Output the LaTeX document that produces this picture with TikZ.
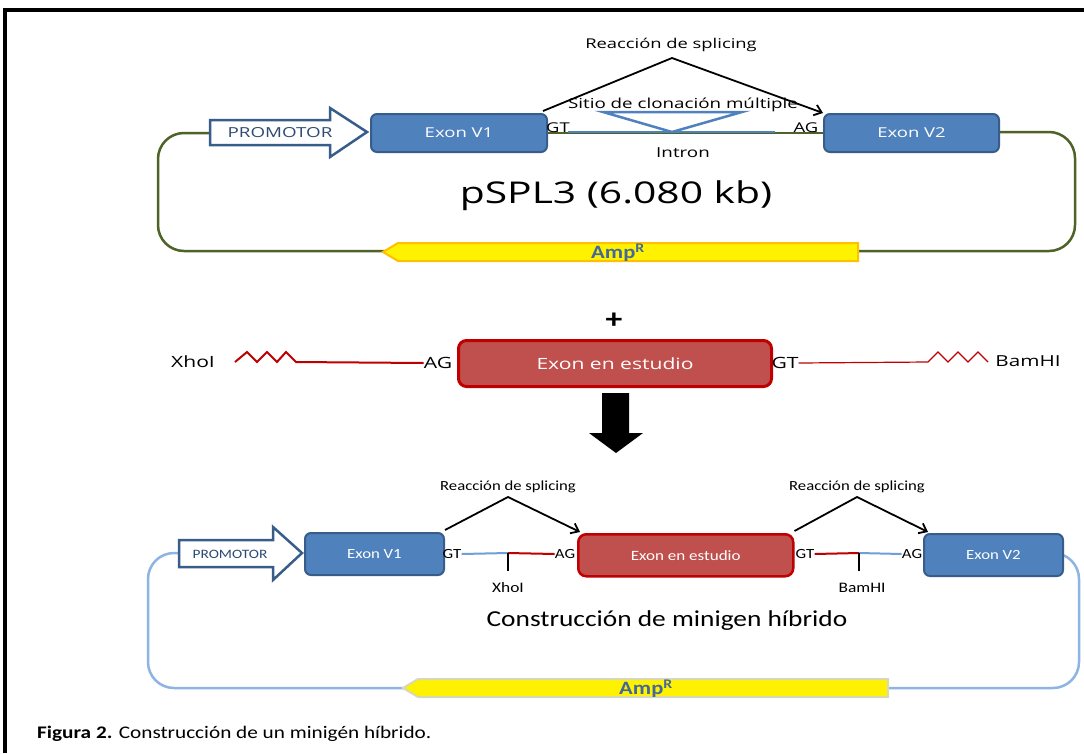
\documentclass[tikz,border=0pt]{standalone}
\usepackage{fontspec}
\setmainfont[FakeStretch=1.2]{Carlito}
\newfontfamily\os[FakeStretch=1.36]{Open Sans}
\usetikzlibrary{arrows.meta}
\definecolor{exblue}{HTML}{4F81BD}
\definecolor{exbord}{HTML}{385D8A}
\definecolor{olivel}{HTML}{4F6228}
\definecolor{lblue}{HTML}{8EB4E3}
\definecolor{mblue}{HTML}{6F9FD8}
\definecolor{dred}{HTML}{C00000}
\definecolor{exred}{HTML}{C0504D}
\definecolor{ampo}{HTML}{FFC000}
\definecolor{ampg}{HTML}{D8D8B8}
\definecolor{amptxt}{HTML}{44679C}
\definecolor{promtxt}{HTML}{2E4A72}
\begin{document}
\begin{tikzpicture}[x=1pt,y=-1pt,
  exon/.style={draw=exbord, fill=exblue, line width=2pt, rounded corners=6pt, text=white, inner sep=0pt, anchor=north west},
  redexon/.style={draw=dred, fill=exred, line width=3pt, rounded corners=8pt, text=white, inner sep=0pt, anchor=north west},
  lbl/.style={inner sep=0pt},
  splice/.style={draw=black, line width=1.8pt, -{Straight Barb[length=7pt,width=11pt,line width=1.8pt]}},
  promo/.style={draw=exbord, fill=white, line width=2.5pt, line join=miter},
  amp/.style={fill=yellow, line width=2pt}
]
\useasboundingbox (0,0) rectangle (1084,753);
\fill[white] (0,0) rectangle (1084,753);
% frame
\draw[line width=3.5pt] (5,753) -- (5,10) -- (1090,10);

% ===== TOP: pSPL3 =====
\coordinate (pw1) at (210,133);
\draw[olivel, line width=2.5pt, rounded corners=26pt] (pw1) -- (158,133) -- (158,251) -- (1075,251) -- (1075,132) -- (998,132);
\draw[promo] (210,120) -- (330,120) -- (330,108) -- (367,132) -- (330,157) -- (330,145) -- (210,145) -- cycle;
\node[lbl, text=promtxt] (prom1) at (280,133) {\os\fontsize{13.8}{15}\selectfont PROMOTOR};
\node[exon, minimum width=176pt, minimum height=38pt] (ev1) at (370,113) {\os\fontsize{13.6}{15}\selectfont Exon V1};
\node[exon, minimum width=175pt, minimum height=38pt] (ev2) at (823,113) {\os\fontsize{13.6}{15}\selectfont Exon V2};
% intron
\draw[olivel, line width=2pt] (ev1.east) -- (ev2.west);
\coordinate (ib1) at (568,132);
\coordinate (ib2) at (775,132);
\draw[exblue, line width=2pt] (ib1) -- (ib2);
\node[lbl] (gt1) at (558,128) {\os\fontsize{13.5}{15}\selectfont GT};
\node[lbl] (ag1) at (806,128) {\os\fontsize{13.5}{15}\selectfont AG};
\node[lbl] (intron) at (683,153) {\os\fontsize{13.8}{15}\selectfont Intron};
% MCS triangle
\coordinate (t1) at (603,112);
\coordinate (t2) at (742,112);
\coordinate (t3) at (672,132);
\draw[exblue, line width=2.5pt, line join=miter] (t1) -- (t2) -- (t3) -- cycle;
\node[lbl] (mcs) at (683,105) {\os\fontsize{13.8}{16}\selectfont Sitio de clonación múltiple};
% splicing
\node[lbl] (rs1) at (671,45) {\os\fontsize{13.5}{16}\selectfont Reacción de splicing};
\coordinate (ap1) at (672,58);
\draw[splice] ([xshift=-5pt,yshift=2pt]ev1.north east) -- (ap1) -- (ev2.north west);
\node[lbl] (pspl) at (616,196) {\os\fontsize{30}{34}\selectfont pSPL3 (6.080 kb)};
% AmpR top
\draw[amp, draw=ampo] (858,243) -- (398,243) -- (383,252) -- (398,261) -- (858,261) -- cycle;
\node[lbl, text=amptxt] (amp1) at (618,253) {\bfseries\fontsize{18.8}{20}\selectfont Amp\textsuperscript{R}};

% ===== MIDDLE =====
\node[lbl] (plus) at (614,321) {\bfseries\fontsize{28}{30}\selectfont +};
\node[lbl] (xho) at (193,362) {\os\fontsize{15.5}{17}\selectfont XhoI};
\node[redexon, minimum width=313pt, minimum height=46pt] (ees) at (457,339) {\os\fontsize{15.5}{18}\selectfont Exon en estudio};
\node[lbl] (agm) at (438,363) {\os\fontsize{15.5}{17}\selectfont AG};
\node[lbl] (gtm) at (785,363) {\os\fontsize{15.5}{17}\selectfont GT};
\node[lbl] (bam) at (1028,361) {\os\fontsize{15.2}{17}\selectfont BamHI};
\coordinate (zx) at (235,362);
\draw[dred, line width=2pt, line join=miter] (zx) -- (247,352) -- (257,362) -- (267,352) -- (277,362) -- (286,352) -- (296,362) -- (agm.west);
\coordinate (zb) at (928,362);
\draw[dred, line width=1.2pt, line join=miter] (gtm.east) -- (zb) -- (938,352) -- (948,362) -- (958,352) -- (968,362) -- (978,352) -- (988,362);
% down arrow
\fill[black] (602,393) -- (629,393) -- (629,433) -- (643,433) -- (616,453) -- (589,433) -- (602,433) -- cycle;

% ===== BOTTOM: minigene =====
\draw[lblue, line width=2.5pt, rounded corners=26pt] (179,553) -- (148,553) -- (148,688) -- (1079,688) -- (1079,553) -- (1062,553);
\draw[promo] (179,540) -- (273,540) -- (273,527) -- (302,553) -- (273,580) -- (273,567) -- (179,567) -- cycle;
\node[lbl, text=promtxt] (prom2) at (230,554) {\fontsize{12.8}{15}\selectfont PROMOTOR};
\node[exon, minimum width=139pt, minimum height=42pt] (bv1) at (304,532) {\fontsize{14}{16}\selectfont Exon V1};
\node[redexon, line width=2.5pt, minimum width=215pt, minimum height=42pt] (bes) at (577,533) {\fontsize{14.2}{17}\selectfont Exon en estudio};
\node[exon, minimum width=139pt, minimum height=42pt] (bv2) at (923,533) {\fontsize{14}{16}\selectfont Exon V2};
\node[lbl] (gtb1) at (452,554) {\fontsize{14}{16}\selectfont GT};
\node[lbl] (agb1) at (565,554) {\fontsize{14}{16}\selectfont AG};
\node[lbl] (gtb2) at (805,554) {\fontsize{14}{16}\selectfont GT};
\node[lbl] (agb2) at (912,554) {\fontsize{14}{16}\selectfont AG};
\coordinate (xc) at (508,553);
\coordinate (bc) at (859,553);
\draw[mblue, line width=2pt] (gtb1.east) -- (xc);
\draw[dred, line width=2pt] (xc) -- (agb1.west);
\draw[dred, line width=2pt] (gtb2.east) -- (bc);
\draw[mblue, line width=2pt] (bc) -- (agb2.west);
\node[lbl] (xhob) at (508,588) {\fontsize{14.5}{16}\selectfont XhoI};
\node[lbl] (bamb) at (862,588) {\fontsize{14.5}{16}\selectfont BamHI};
\draw[black, line width=1.5pt] (xc) -- (xc |- 0,571);
\draw[black, line width=1.5pt] (bc) -- (bc |- 0,571);
% splicing
\node[lbl] (rsb1) at (508,487) {\fontsize{13.9}{16}\selectfont Reacción de splicing};
\node[lbl] (rsb2) at (857,487) {\fontsize{13.9}{16}\selectfont Reacción de splicing};
\coordinate (apb1) at (508,497);
\coordinate (apb2) at (857,497);
\draw[splice] ([yshift=2pt]bv1.north east) -- (apb1) -- ([xshift=3pt,yshift=1pt]bes.north west);
\draw[splice] ([yshift=2pt]bes.north east) -- (apb2) -- ([xshift=5pt,yshift=1pt]bv2.north west);
\node[lbl] (cons) at (667,621) {\fontsize{22.8}{28}\selectfont Construcción de minigen híbrido};
% AmpR bottom
\draw[amp, draw=ampg] (888,679) -- (418,679) -- (403,688) -- (418,697) -- (888,697) -- cycle;
\node[lbl, text=amptxt] (amp2) at (646,689) {\bfseries\fontsize{18.8}{20}\selectfont Amp\textsuperscript{R}};

% caption
\node[lbl, anchor=west] (cap) at (37,734) {\fontsize{17.7}{20}\selectfont\textbf{Figura 2.} Construcción de un minigén híbrido.};
\end{tikzpicture}
\end{document}
